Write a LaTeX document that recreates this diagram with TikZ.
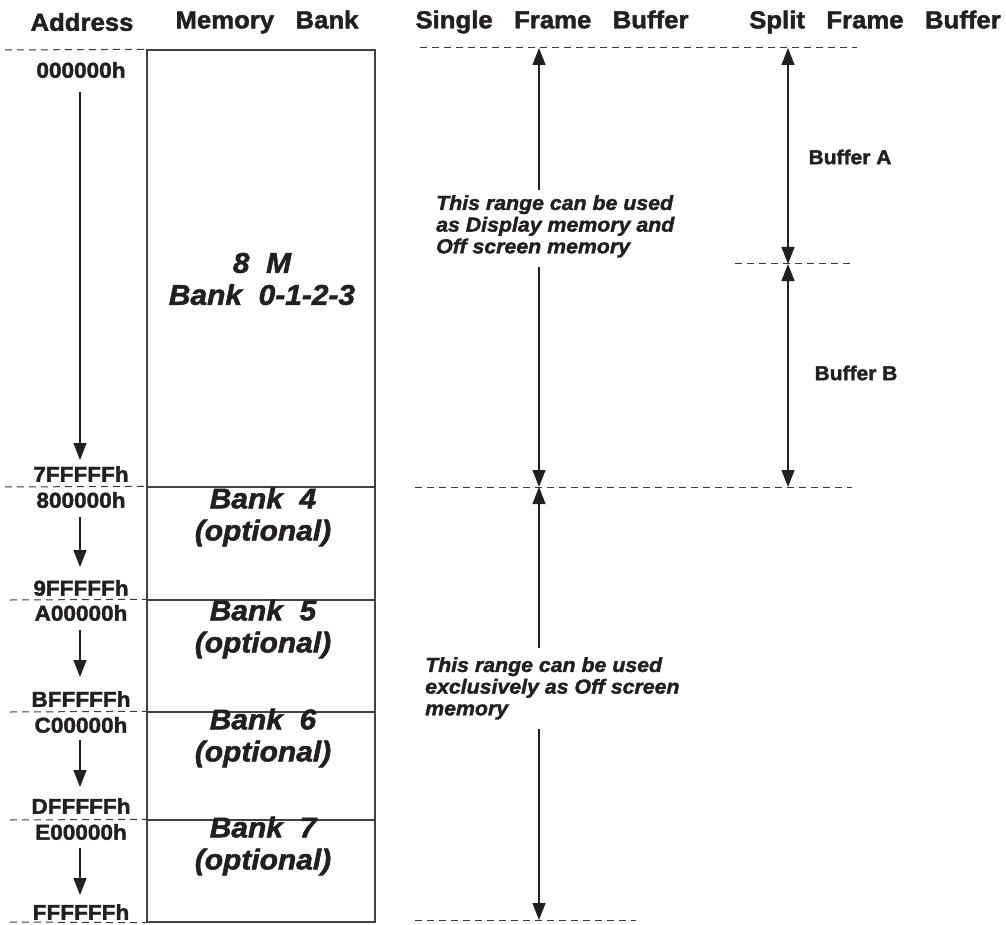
\documentclass[tikz,border=0pt]{standalone}
\usepackage{fontspec}
\setmainfont{Liberation Sans}[FakeStretch=1.05, BoldFeatures={FakeBold=1.8}, BoldItalicFeatures={FakeBold=1.8}]
\usetikzlibrary{arrows.meta}
\definecolor{ink}{HTML}{231F20}
\definecolor{dashgray}{HTML}{3A3A3A}
\newcommand{\wgap}{\ \ \ }
\begin{document}
\begin{tikzpicture}[x=1pt,y=-1pt,
  hdr/.style={font=\fontsize{24.5}{28}\selectfont\bfseries, text=ink, inner sep=0pt},
  addr/.style={font=\fontsize{21.5}{24}\selectfont\bfseries, text=ink, inner sep=0pt},
  banktxt/.style={font=\fontsize{28.5}{32}\selectfont\bfseries\itshape, text=ink, align=center, inner sep=0pt},
  note/.style={font=\fontsize{20.3}{21.7}\selectfont\bfseries\itshape, text=ink, align=left, anchor=north west, inner sep=0pt},
  buf/.style={font=\fontsize{20}{22}\selectfont\bfseries, text=ink, inner sep=0pt},
  dline/.style={draw=dashgray, line width=1pt, dash pattern=on 7pt off 5pt},
  boxline/.style={draw=ink!85, line width=1.4pt},
  arr/.style={draw=ink, line width=1.1pt, -{Triangle[length=17pt,width=13pt]}},
  darr/.style={draw=ink, line width=1.1pt, {Triangle[length=17pt,width=13pt]}-{Triangle[length=17pt,width=13pt]}}
]
\useasboundingbox (0,0) rectangle (1006,925);

% headers
\node[hdr] (hAddr) at (82,22) {Address};
\node[hdr] (hMem) at (267,22) {Memory\wgap Bank};
\node[hdr] (hSingle) at (552,22) {Single\wgap Frame\wgap Buffer};
\node[hdr] (hSplit) at (875,22) {Split\wgap Frame\wgap Buffer};

% memory bank boxes
\node[boxline, minimum width=228pt, minimum height=437pt, inner sep=0pt] (b0) at (261,268.5) {};
\node[boxline, minimum width=228pt, minimum height=113pt, inner sep=0pt] (b4) at (261,543.5) {};
\node[boxline, minimum width=228pt, minimum height=112pt, inner sep=0pt] (b5) at (261,656) {};
\node[boxline, minimum width=228pt, minimum height=108pt, inner sep=0pt] (b6) at (261,766) {};
\node[boxline, minimum width=228pt, minimum height=102pt, inner sep=0pt] (b7) at (261,871) {};

\node[banktxt] (t0) at (262,279) {8\ \ M\\Bank\ \ 0-1-2-3};
\node[banktxt] (t4) at (263,517) {Bank\ \ 4\\(optional)};
\node[banktxt] (t5) at (263,629) {Bank\ \ 5\\(optional)};
\node[banktxt] (t6) at (263,738) {Bank\ \ 6\\(optional)};
\node[banktxt] (t7) at (263,846) {Bank\ \ 7\\(optional)};

% address labels
\node[addr] (a0) at (81,70) {000000h};
\node[addr] (a1) at (81,474) {7FFFFFh};
\node[addr] (a2) at (81,500) {800000h};
\node[addr] (a3) at (81,588) {9FFFFFh};
\node[addr] (a4) at (81,613) {A00000h};
\node[addr] (a5) at (81,699) {BFFFFFh};
\node[addr] (a6) at (81,725) {C00000h};
\node[addr] (a7) at (81,806) {DFFFFFh};
\node[addr] (a8) at (81,832) {E00000h};
\node[addr] (a9) at (81,912) {FFFFFFh};

% address arrows
\coordinate (s0) at (80,92);  \coordinate (e0) at (80,460);
\coordinate (s1) at (80,517); \coordinate (e1) at (80,567);
\coordinate (s2) at (80,630); \coordinate (e2) at (80,677);
\coordinate (s3) at (80,740); \coordinate (e3) at (80,787);
\coordinate (s4) at (80,848); \coordinate (e4) at (80,895);
\draw[arr] (s0) -- (e0);
\draw[arr] (s1) -- (e1);
\draw[arr] (s2) -- (e2);
\draw[arr] (s3) -- (e3);
\draw[arr] (s4) -- (e4);

% left dashed lines
\draw[dline] (5,50) -- (b0.north west);
\draw[dline] (5,487) -- (b4.north west);
\draw[dline] (10,600) -- (b5.north west);
\draw[dline] (10,712) -- (b6.north west);
\draw[dline] (10,820) -- (b7.north west);
\draw[dline] (10,922) -- (b7.south west);

% single frame buffer
\coordinate (top) at (539,48);
\coordinate (mid) at (539,487);
\coordinate (bot) at (539,920);
\draw[dline] (420,48) -- (857,48);
\draw[dline] (415,487) -- (852,487);
\draw[dline] (415,920) -- (636,920);

\node[note] (n1) at (436,195) {This range can be used\\as Display memory and\\Off screen memory};
\node[note] (n2) at (425,657) {This range can be used\\exclusively as Off screen\\memory};

\coordinate (n1t) at (539,190);
\coordinate (n1b) at (539,267);
\coordinate (n2t) at (539,648);
\coordinate (n2b) at (539,729);
\draw[arr] (n1t) -- (top);
\draw[arr] (n1b) -- (mid);
\draw[arr] (n2t) -- (mid);
\draw[arr] (n2b) -- (bot);

% split frame buffer
\coordinate (stop) at (788,48);
\coordinate (smid) at (788,264);
\coordinate (sbot) at (788,487);
\draw[dline] (735,264) -- (851,264);
\draw[darr] (stop) -- (smid);
\draw[darr] (smid) -- (sbot);
\node[buf] (bufA) at (850,157) {Buffer A};
\node[buf] (bufB) at (856,373) {Buffer B};
\end{tikzpicture}
\end{document}
